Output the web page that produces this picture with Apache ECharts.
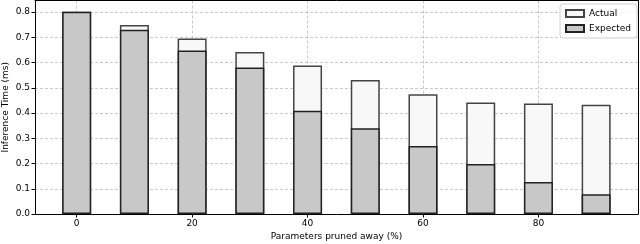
<!DOCTYPE html>
<html><head><meta charset="utf-8">
<script src="https://cdn.jsdelivr.net/npm/echarts@6/dist/echarts.min.js"></script>
<style>html,body{margin:0;padding:0;background:#fff}#c{width:640px;height:244px}</style>
</head><body><div id="c"></div>
<script>
var pruned = [0, 10, 20, 30, 40, 50, 60, 70, 80, 90];
var actual = [0.801, 0.749, 0.695, 0.642, 0.588, 0.531, 0.475, 0.442, 0.438, 0.433];
var expected = [0.801, 0.730, 0.648, 0.581, 0.409, 0.340, 0.269, 0.198, 0.127, 0.078];
var xTicks = [0, 20, 40, 60, 80];

var font = 'DejaVu Sans';
var chart = echarts.init(document.getElementById('c'), null, {renderer: 'canvas'});
function pairs(arr){ return pruned.map(function(x,i){ return [x, arr[i]]; }); }
var gridLine = {color: '#bcbcbc', type: [3, 2], width: 0.8};
var frameAxis = {
  axisLine: {show: true, onZero: false, lineStyle: {color: '#000', width: 1}},
  axisTick: {show: false}, axisLabel: {show: false}, splitLine: {show: false}
};
chart.setOption({
  animation: false,
  textStyle: {fontFamily: font},
  grid: {left: 35, right: 2, top: 0.5, bottom: 30, outerBoundsMode: 'none', containLabel: false},
  legend: {
    right: 3, top: 4, orient: 'vertical', itemWidth: 18, itemHeight: 7, itemGap: 6,
    padding: [5, 6, 5, 5], icon: 'rect',
    borderColor: '#d0d0d0', borderWidth: 1, borderRadius: 3, backgroundColor: 'rgba(255,255,255,0.85)',
    textStyle: {fontFamily: font, fontSize: 9, color: '#000'},
    data: ['Actual', 'Expected']
  },
  xAxis: [{
    type: 'value', min: -7.22, max: 97.25, splitNumber: 5,
    name: 'Parameters pruned away (%)', nameLocation: 'middle', nameGap: 18, nameMoveOverlap: false,
    nameTextStyle: {fontFamily: font, fontSize: 9, color: '#000'},
    axisLine: {onZero: false, lineStyle: {color: '#000', width: 1}},
    axisTick: {show: true, customValues: xTicks, length: 3.5, lineStyle: {color: '#000'}},
    axisLabel: {customValues: xTicks, fontFamily: font, fontSize: 9, color: '#000', margin: 5},
    splitLine: {show: true, lineStyle: gridLine}
  }, Object.assign({type: 'value', position: 'top', min: -7.22, max: 97.25}, frameAxis)],
  yAxis: [{
    type: 'value', min: 0, max: 0.846, interval: 0.1,
    name: 'Inference Time (ms)', nameLocation: 'middle', nameGap: 25, nameMoveOverlap: false,
    nameTextStyle: {fontFamily: font, fontSize: 9, color: '#000'},
    axisLine: {show: true, onZero: false, lineStyle: {color: '#000', width: 1}},
    axisTick: {show: true, length: 3.5, lineStyle: {color: '#000'}},
    axisLabel: {fontFamily: font, fontSize: 9, color: '#000', margin: 5, showMaxLabel: false,
      formatter: function(v){ return v.toFixed(1); }},
    splitLine: {show: true, lineStyle: gridLine}
  }, Object.assign({type: 'value', position: 'right', min: 0, max: 0.846}, frameAxis)],
  series: [
    {
      name: 'Actual', type: 'bar', data: pairs(actual), barWidth: 29, barGap: '-100%',
      itemStyle: {color: '#f8f8f8', borderColor: '#444', borderWidth: 1.5},
      z: 2
    },
    {
      name: 'Expected', type: 'bar', data: pairs(expected), barWidth: 29, barGap: '-100%',
      itemStyle: {color: '#c8c8c8', borderColor: '#222', borderWidth: 1.5},
      z: 3
    }
  ]
});
</script></body></html>
